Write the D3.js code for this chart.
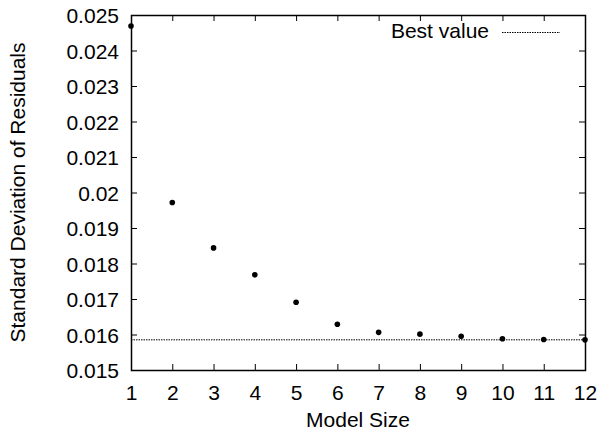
<!DOCTYPE html>
<html>
<head>
<meta charset="utf-8">
<script src="https://cdn.jsdelivr.net/npm/d3@7"></script>
<style>
  html, body { margin: 0; padding: 0; background: #fff; }
  text { font-family: "Liberation Sans", Arial, Helvetica, sans-serif; fill: #000; }
</style>
</head>
<body>
<svg id="chart" width="600" height="432"></svg>
<script>
// Model size vs. residual standard deviation
const modelSizes = [1, 2, 3, 4, 5, 6, 7, 8, 9, 10, 11, 12];
const residualSD = [0.02469, 0.01972, 0.01844, 0.01768, 0.01691, 0.01629,
                    0.01606, 0.01601, 0.01595, 0.01588, 0.01586, 0.01585];
const bestValue = 0.01585;
const yTicks = [0.015, 0.016, 0.017, 0.018, 0.019, 0.02, 0.021, 0.022, 0.023, 0.024, 0.025];
const yTickLabels = ["0.015", "0.016", "0.017", "0.018", "0.019", "0.02", "0.021", "0.022", "0.023", "0.024", "0.025"];
const xTicks = [1, 2, 3, 4, 5, 6, 7, 8, 9, 10, 11, 12];

const svg = d3.select("#chart");
const margin = { left: 131, right: 15, top: 15, bottom: 62 };
const W = 600, H = 432;

const x = d3.scaleLinear().domain([1, 12]).range([margin.left, W - margin.right]);
const y = d3.scaleLinear().domain([0.015, 0.025]).range([H - margin.bottom, margin.top]);

const tickLen = 6;
const fontSize = 21;

// Inward ticks on all four sides
const axisBottom = d3.axisBottom(x).tickValues(xTicks).tickSize(-tickLen).tickPadding(15).tickFormat(d3.format("d"));
const axisTop = d3.axisTop(x).tickValues(xTicks).tickSize(-tickLen).tickFormat("");
const axisLeft = d3.axisLeft(y).tickValues(yTicks).tickSize(-tickLen).tickPadding(12)
  .tickFormat((d, i) => yTickLabels[i]);
const axisRight = d3.axisRight(y).tickValues(yTicks).tickSize(-tickLen).tickFormat("");

function styleAxis(g) {
  g.select(".domain").remove();
  g.selectAll(".tick line").attr("stroke", "#000").attr("stroke-width", 1);
  g.selectAll(".tick text").attr("font-size", fontSize).attr("fill", "#000")
    .style("font-family", "'Liberation Sans', Arial, sans-serif");
}

svg.append("g").attr("transform", `translate(0,${y.range()[0]})`).call(axisBottom).call(styleAxis);
svg.append("g").attr("transform", `translate(0,${y.range()[1]})`).call(axisTop).call(styleAxis);
const gLeft = svg.append("g").attr("transform", `translate(${x.range()[0]},0)`).call(axisLeft).call(styleAxis);
gLeft.selectAll(".tick text").attr("dy", "0.37em");
svg.append("g").attr("transform", `translate(${x.range()[1]},0)`).call(axisRight).call(styleAxis);

// Frame
svg.append("rect")
  .attr("x", x.range()[0] + 0.5).attr("y", y.range()[1] + 0.5)
  .attr("width", x.range()[1] - x.range()[0]).attr("height", y.range()[0] - y.range()[1])
  .attr("fill", "none").attr("stroke", "#000").attr("stroke-width", 1.5);

// Best value reference line
svg.append("line")
  .attr("x1", x(1)).attr("x2", x(12))
  .attr("y1", y(bestValue)).attr("y2", y(bestValue))
  .attr("stroke", "#000").attr("stroke-width", 1).attr("stroke-dasharray", "1.5,1");

// Data points
svg.append("g").selectAll("circle")
  .data(modelSizes.map((m, i) => [m, residualSD[i]]))
  .join("circle")
  .attr("cx", d => x(d[0])).attr("cy", d => y(d[1]))
  .attr("r", 2.8).attr("fill", "#000");

// Legend
svg.append("text").attr("x", 489).attr("y", 38).attr("text-anchor", "end")
  .attr("font-size", fontSize).text("Best value");
svg.append("line")
  .attr("x1", 502).attr("x2", 560).attr("y1", 32.5).attr("y2", 32.5)
  .attr("stroke", "#000").attr("stroke-width", 1).attr("stroke-dasharray", "1.5,1");

// Axis titles
svg.append("text").attr("x", (x.range()[0] + x.range()[1]) / 2).attr("y", 427)
  .attr("text-anchor", "middle").attr("font-size", fontSize).text("Model Size");
svg.append("text")
  .attr("transform", `translate(25,${(y.range()[0] + y.range()[1]) / 2}) rotate(-90)`)
  .attr("text-anchor", "middle").attr("font-size", fontSize).text("Standard Deviation of Residuals");
</script>
</body>
</html>
